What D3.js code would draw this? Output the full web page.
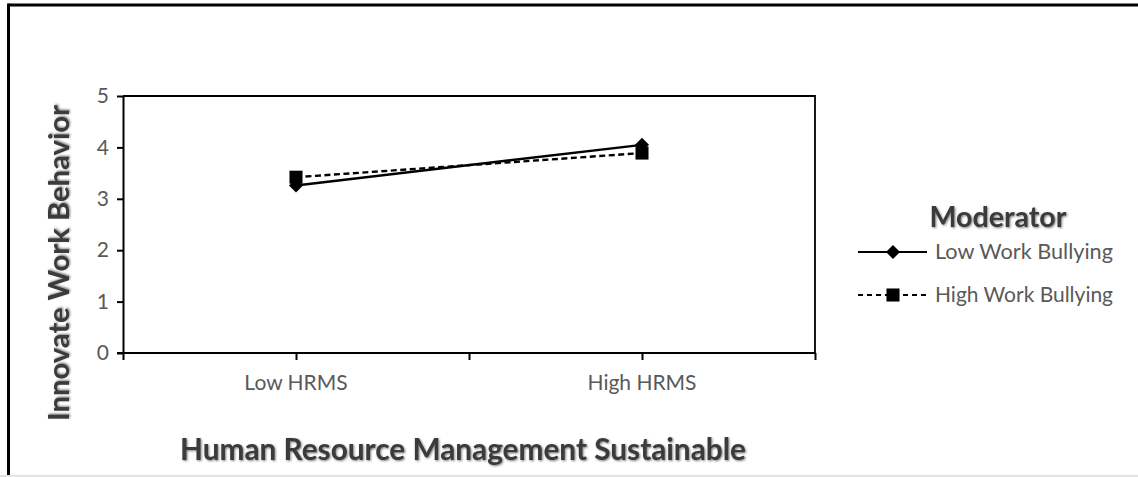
<!DOCTYPE html>
<html>
<head>
<meta charset="utf-8">
<script src="https://cdn.jsdelivr.net/npm/d3@7/dist/d3.min.js"></script>
<style>
  html, body { margin: 0; padding: 0; background: #fff; }
  svg { display: block; }
  text { font-family: Lato, "Open Sans", sans-serif; }
</style>
</head>
<body>
<svg id="chart" width="1138" height="477"></svg>
<script>
// Interaction plot: innovative work behaviour by HRMS level and bullying moderator
const categories = ["Low HRMS", "High HRMS"];
const seriesNames = ["Low Work Bullying", "High Work Bullying"];
const lowBullying = [3.26, 4.05];
const highBullying = [3.42, 3.89];
const yTicks = [0, 1, 2, 3, 4, 5];

const W = 1138, H = 477;
const plot = { left: 123, right: 815, top: 96, bottom: 353 };

const svg = d3.select("#chart");

// soft shadow used on the title texts
const defs = svg.append("defs");
const sh = defs.append("filter").attr("id", "titleShadow")
  .attr("x", "-5%").attr("y", "-20%").attr("width", "110%").attr("height", "140%");
sh.append("feDropShadow").attr("dx", 1).attr("dy", 1).attr("stdDeviation", 0.9)
  .attr("flood-color", "#000").attr("flood-opacity", 0.5);

// outer chart frame (top and left edges) and faint bottom edge
svg.append("line").attr("x1", 8.5).attr("x2", W).attr("y1", 5).attr("y2", 5)
  .attr("stroke", "#000").attr("stroke-width", 3);
svg.append("line").attr("x1", 8.5).attr("x2", 8.5).attr("y1", 3.5).attr("y2", H - 1.5)
  .attr("stroke", "#000").attr("stroke-width", 3);
svg.append("line").attr("x1", 0).attr("x2", W).attr("y1", H - 1).attr("y2", H - 1)
  .attr("stroke", "#e2e2e2").attr("stroke-width", 2);

// scales
const x = d3.scaleBand().domain(categories).range([plot.left, plot.right]).padding(0);
const xEdge = d3.scaleLinear().domain([0, categories.length]).range([plot.left, plot.right]);
const y = d3.scaleLinear().domain([0, 5]).range([plot.bottom, plot.top]);
const cx = c => x(c) + x.bandwidth() / 2;

// plot-area frame (top and right)
svg.append("path")
  .attr("d", `M${plot.left},${plot.top}H${plot.right}V${plot.bottom}`)
  .attr("fill", "none").attr("stroke", "#000").attr("stroke-width", 1.8);

// y axis
const yAxis = svg.append("g").attr("transform", `translate(${plot.left},0)`)
  .call(d3.axisLeft(y).tickValues(yTicks).tickFormat(d3.format("d")).tickSize(6).tickSizeOuter(0).tickPadding(8));
yAxis.select(".domain").attr("stroke", "#000").attr("stroke-width", 2);
yAxis.selectAll(".tick line").attr("stroke", "#000").attr("stroke-width", 2);
yAxis.selectAll(".tick text").attr("fill", "#595959").attr("font-size", 21)
  .attr("font-family", "Lato, sans-serif");

// x axis: tick marks at category edges and centres
const xTickAxis = svg.append("g").attr("transform", `translate(0,${plot.bottom})`)
  .call(d3.axisBottom(xEdge).tickValues(d3.range(0, categories.length + 0.01, 0.5))
    .tickFormat("").tickSize(7).tickSizeOuter(0));
xTickAxis.select(".domain").attr("stroke", "#000").attr("stroke-width", 2)
  .attr("d", `M${plot.left - 6},0H${plot.right}`);
xTickAxis.selectAll(".tick line").attr("stroke", "#000").attr("stroke-width", 2);

// x axis: category labels
const xLabelAxis = svg.append("g").attr("transform", `translate(0,${plot.bottom})`)
  .call(d3.axisBottom(x).tickSize(0).tickPadding(22));
xLabelAxis.select(".domain").remove();
xLabelAxis.selectAll(".tick text").attr("fill", "#595959").attr("font-size", 21)
  .attr("font-family", "Lato, sans-serif");

// series lines
const line = d3.line().x((d, i) => cx(categories[i])).y(d => y(d));
svg.append("path").datum(lowBullying).attr("d", line)
  .attr("fill", "none").attr("stroke", "#000").attr("stroke-width", 2.4);
svg.append("path").datum(highBullying).attr("d", line)
  .attr("fill", "none").attr("stroke", "#000").attr("stroke-width", 2.4)
  .attr("stroke-dasharray", "6,3.5");

const diamond = d3.symbol().type(d3.symbolDiamond2).size(125);
const square = d3.symbol().type(d3.symbolSquare).size(170);

svg.append("g").selectAll("path").data(lowBullying).join("path")
  .attr("d", diamond)
  .attr("transform", (d, i) => `translate(${cx(categories[i])},${y(d)})`)
  .attr("fill", "#000");
svg.append("g").selectAll("path").data(highBullying).join("path")
  .attr("d", square)
  .attr("transform", (d, i) => `translate(${cx(categories[i])},${y(d)})`)
  .attr("fill", "#000");

// fit a text element's width by scaling its font size
function fitWidth(sel, target) {
  const node = sel.node();
  const w = node.getComputedTextLength();
  const fs = parseFloat(sel.attr("font-size"));
  if (w > 0) sel.attr("font-size", (fs * target / w).toFixed(2));
}

// axis titles
const xTitle = svg.append("text")
  .attr("x", 463).attr("y", 460).attr("text-anchor", "middle")
  .attr("font-size", 28).attr("font-weight", 700).attr("fill", "#3a3a3a")
  .attr("filter", "url(#titleShadow)")
  .text("Human Resource Management Sustainable");
fitWidth(xTitle, 566);

const yTitle = svg.append("text")
  .attr("transform", "translate(69,263) rotate(-90)").attr("text-anchor", "middle")
  .attr("font-size", 28).attr("font-weight", 700).attr("fill", "#3a3a3a")
  .attr("filter", "url(#titleShadow)")
  .text("Innovate Work Behavior");
fitWidth(yTitle, 316);

// legend
const legend = svg.append("g");
const legTitle = legend.append("text")
  .attr("x", 998).attr("y", 227).attr("text-anchor", "middle")
  .attr("font-size", 28).attr("font-weight", 700).attr("fill", "#3a3a3a")
  .attr("filter", "url(#titleShadow)")
  .text("Moderator");
fitWidth(legTitle, 137);

const legRows = [
  { name: seriesNames[0], y: 252, dash: null, sym: diamond },
  { name: seriesNames[1], y: 295, dash: "5,4", sym: square }
];
legRows.forEach(r => {
  legend.append("line").attr("x1", 858).attr("x2", 927).attr("y1", r.y).attr("y2", r.y)
    .attr("stroke", "#000").attr("stroke-width", 2.2)
    .attr("stroke-dasharray", r.dash);
  legend.append("path").attr("d", r.sym)
    .attr("transform", `translate(893,${r.y})`).attr("fill", "#000");
  const t = legend.append("text").attr("x", 935).attr("y", r.y + 7)
    .attr("font-size", 21).attr("fill", "#595959").text(r.name);
  fitWidth(t, 178);
});
</script>
</body>
</html>
